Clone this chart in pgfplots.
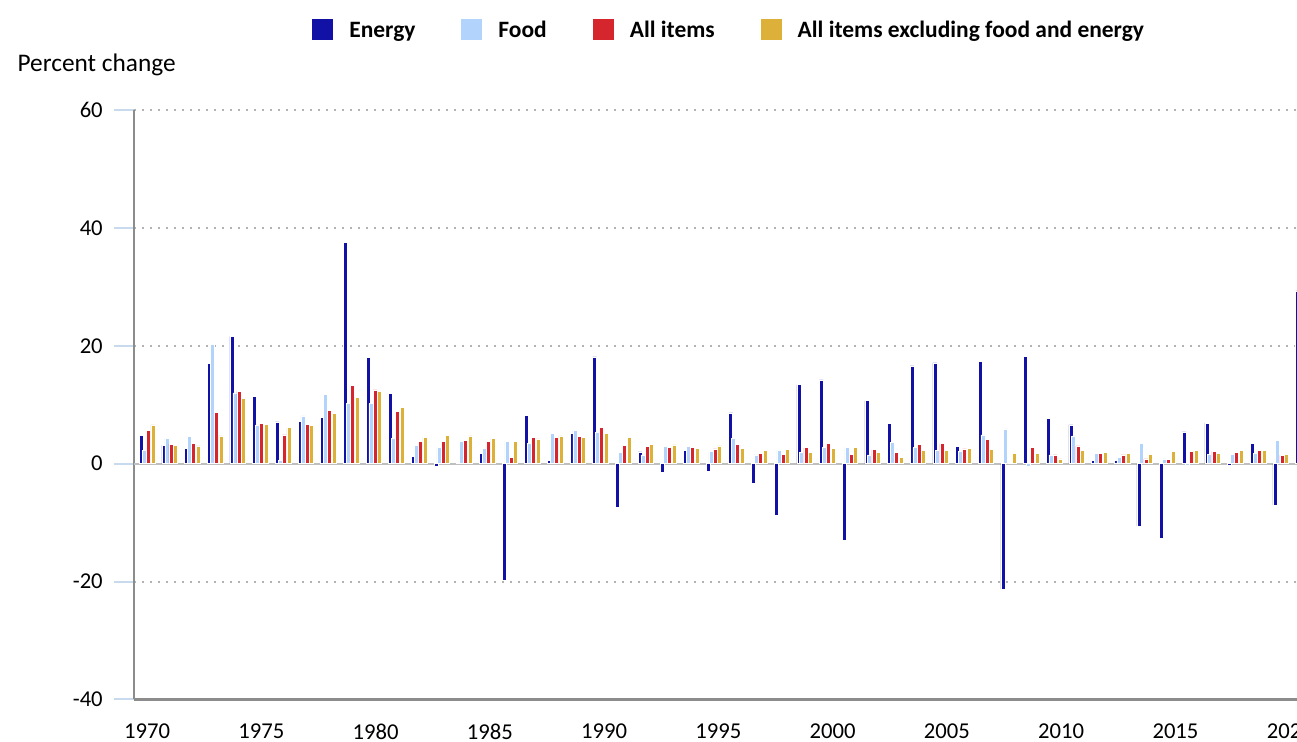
\documentclass[border=0pt]{standalone}
\usepackage{fontspec}
\setmainfont{Carlito}
\usepackage{pgfplots}
\usepackage{pgfplotstable}
\pgfplotsset{compat=1.18}

\definecolor{energy}{RGB}{17,17,165}
\definecolor{food}{RGB}{178,212,252}
\definecolor{allitems}{RGB}{214,38,45}
\definecolor{core}{RGB}{221,176,58}
\definecolor{tickblue}{RGB}{200,218,238}

% December-to-December percent change, CPI-U
\pgfplotstableread{
year energy food all core
1970 4.8 2.3 5.6 6.6
1971 3.1 4.3 3.3 3.1
1972 2.6 4.6 3.4 3.0
1973 17.0 20.3 8.7 4.7
1974 21.6 12.0 12.3 11.1
1975 11.4 6.6 6.9 6.7
1976 7.1 0.5 4.9 6.1
1977 7.2 8.1 6.7 6.5
1978 7.9 11.8 9.0 8.5
1979 37.5 10.2 13.3 11.3
1980 18.0 10.2 12.5 12.2
1981 11.9 4.3 8.9 9.5
1982 1.3 3.1 3.8 4.5
1983 -0.5 2.7 3.8 4.8
1984 0.2 3.8 3.9 4.7
1985 1.8 2.6 3.8 4.3
1986 -19.7 3.8 1.1 3.8
1987 8.2 3.5 4.4 4.2
1988 0.5 5.2 4.4 4.7
1989 5.1 5.6 4.6 4.4
1990 18.1 5.3 6.1 5.2
1991 -7.4 1.9 3.1 4.4
1992 2.0 1.5 2.9 3.3
1993 -1.4 2.9 2.7 3.2
1994 2.2 2.9 2.7 2.6
1995 -1.3 2.1 2.5 3.0
1996 8.6 4.3 3.3 2.6
1997 -3.4 1.5 1.7 2.2
1998 -8.8 2.3 1.6 2.4
1999 13.4 1.9 2.7 1.9
2000 14.2 2.8 3.4 2.6
2001 -13.0 2.8 1.6 2.7
2002 10.7 1.5 2.4 1.9
2003 6.9 3.6 1.9 1.1
2004 16.6 2.7 3.3 2.2
2005 17.1 2.3 3.4 2.2
2006 2.9 2.1 2.5 2.6
2007 17.4 4.9 4.1 2.4
2008 -21.3 5.9 0.1 1.8
2009 18.2 -0.5 2.7 1.8
2010 7.7 1.5 1.5 0.8
2011 6.6 4.7 3.0 2.2
2012 0.5 1.8 1.7 1.9
2013 0.5 1.1 1.5 1.7
2014 -10.6 3.4 0.8 1.6
2015 -12.6 0.8 0.7 2.1
2016 5.4 -0.2 2.1 2.2
2017 6.9 1.6 2.1 1.8
2018 -0.3 1.6 1.9 2.2
2019 3.4 1.8 2.3 2.3
2020 -7.0 3.9 1.4 1.6
2021 29.3 6.3 7.0 5.5
}\cpi

\begin{document}
\begin{tikzpicture}
\begin{axis}[
    at={(0,0)}, anchor=south west,
    scale only axis,
    width=872.25pt, height=442.1pt,
    xmin=1969.422, xmax=2020.72,
    ymin=-40, ymax=60,
    ytick={-40,-20,0,20,40,60},
    % the year labels sit a little wider apart than the bar groups
    xtick={1970,1975.04,1980.08,1985.12,1990.16,1995.2,2000.24,2005.28,2010.32,2015.36,2020.4},
    xticklabels={1970,1975,1980,1985,1990,1995,2000,2005,2010,2015,2020},
    axis x line*=bottom, axis y line*=left,
    x axis line style={draw=black!45, line width=2.2pt},
    y axis line style={draw=black!45, line width=1.4pt},
    tick align=outside,
    major tick length=15pt,
    ytick style={draw=tickblue, line width=1.5pt},
    xtick style={draw=none},
    ymajorgrids,
    major grid style={draw=black!30, line width=1.4pt, dash pattern=on 1.4pt off 4.6pt},
    extra y ticks={0}, extra y tick labels={},
    extra y tick style={ytick style={draw=none}, major grid style={draw=black!25, solid, line width=1.5pt}},
    tick label style={font=\fontsize{17}{20}\selectfont},
    /pgf/number format/assume math mode=true,
    /pgf/number format/1000 sep={},
    yticklabel style={anchor=east, inner sep=0pt, xshift=-8.25pt},
    xticklabel style={anchor=north, inner sep=0pt, yshift=-3pt},
    ybar, bar width=3pt,
    every axis plot/.append style={draw=white, line width=0.4pt},
    legend image code/.code={\fill[#1, draw=none] (0pt,-7.875pt) rectangle (15.75pt,7.875pt);},
    legend columns=4,
    legend style={at={(0.1531,1.1544)}, anchor=north west, draw=none, fill=none,
        inner sep=0pt, nodes={inner sep=0pt, text depth=0pt},
        font=\bfseries\fontsize{17.6}{20}\selectfont,
        /tikz/every odd column/.append style={column sep=12pt},
        /tikz/every even column/.append style={column sep=34.5pt}},
]
\addplot[fill=energy, bar shift=-4.35pt] table[x=year, y=energy] {\cpi};
\addplot[fill=food, bar shift=-2.25pt] table[x=year, y=food] {\cpi};
\addplot[fill=allitems, bar shift=0.9pt] table[x=year, y=all] {\cpi};
\addplot[fill=core, bar shift=4.35pt] table[x=year, y=core] {\cpi};
\legend{Energy, Food, All items, All items excluding food and energy}
\end{axis}
\node[anchor=base west, inner sep=0pt, font=\fontsize{19}{22}\selectfont] at (-87.5pt, 470.6pt) {Percent change};
\pgfresetboundingbox
\useasboundingbox (-100.5pt,-31.9pt) rectangle (872.25pt,524.6pt);
\end{tikzpicture}
\end{document}
